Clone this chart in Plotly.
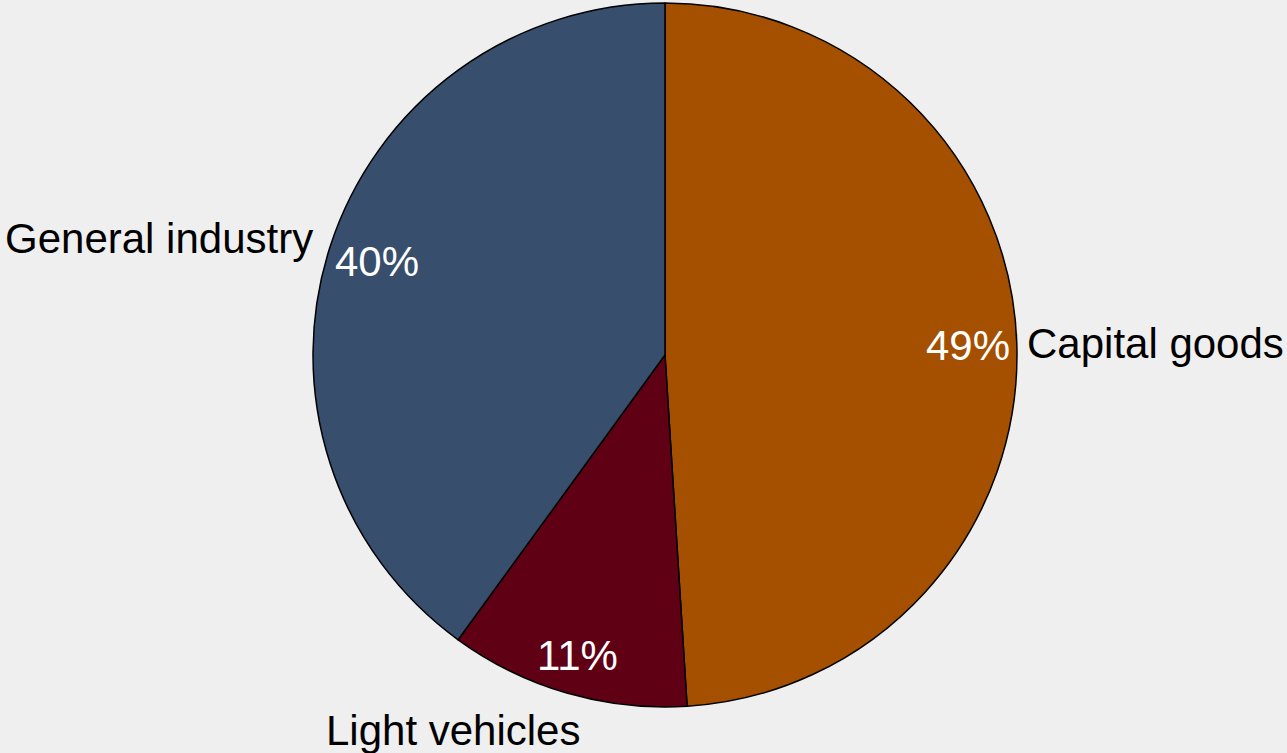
import math
import plotly.graph_objects as go

# Shares by end market (percent)
segments = ["Capital goods", "Light vehicles", "General industry"]
shares = [49, 11, 40]
slice_colors = ["#a54f00", "#600015", "#374e6d"]

W, H = 1287, 753
CX, CY, R = 665, 355, 352          # pie centre and radius in pixels

# Outer label placement per segment: (xanchor, yanchor, xshift, yshift)
label_style = {
    "Capital goods": ("left", "middle", -2, 0),
    "Light vehicles": ("right", "top", 18, -2),
    "General industry": ("right", "middle", -5, 4),
}
# Radial position of the percentage text, as a fraction of the radius
pct_radius = {"Capital goods": 0.86, "Light vehicles": 0.89, "General industry": 0.86}

fig = go.Figure(
    go.Pie(
        labels=segments,
        values=shares,
        sort=False,
        direction="clockwise",
        rotation=0,
        marker=dict(colors=slice_colors, line=dict(color="black", width=1.5)),
        textinfo="none",
        hoverinfo="label+percent",
        showlegend=False,
        domain=dict(
            x=[(CX - R) / W, (CX + R) / W],
            y=[(H - CY - R) / H, (H - CY + R) / H],
        ),
    )
)


def to_paper(px, py):
    return px / W, 1 - py / H


total = sum(shares)
start = 0.0
font_family = "Liberation Sans, Arial, sans-serif"
for name, val in zip(segments, shares):
    frac = val / total
    mid = (start + frac / 2) * 2 * math.pi   # clockwise from 12 o'clock
    start += frac
    sx, sy = math.sin(mid), -math.cos(mid)

    # percentage inside the slice, near the rim
    k = pct_radius[name]
    px, py = to_paper(CX + k * R * sx, CY + k * R * sy)
    fig.add_annotation(
        x=px, y=py, xref="paper", yref="paper", text=f"{val}%",
        showarrow=False, xanchor="center", yanchor="middle",
        font=dict(family=font_family, size=42, color="white"),
    )

    # category name outside the pie
    xa, ya, dx, dy = label_style[name]
    lx, ly = to_paper(CX + 1.03 * R * sx, CY + 1.03 * R * sy)
    fig.add_annotation(
        x=lx, y=ly, xref="paper", yref="paper", text=name,
        showarrow=False, xanchor=xa, yanchor=ya, xshift=dx, yshift=dy,
        font=dict(family=font_family, size=42, color="black"),
    )

fig.update_layout(
    width=W, height=H,
    margin=dict(l=0, r=0, t=0, b=0),
    paper_bgcolor="#efefef",
    plot_bgcolor="#efefef",
)

fig.write_html("out.html")
